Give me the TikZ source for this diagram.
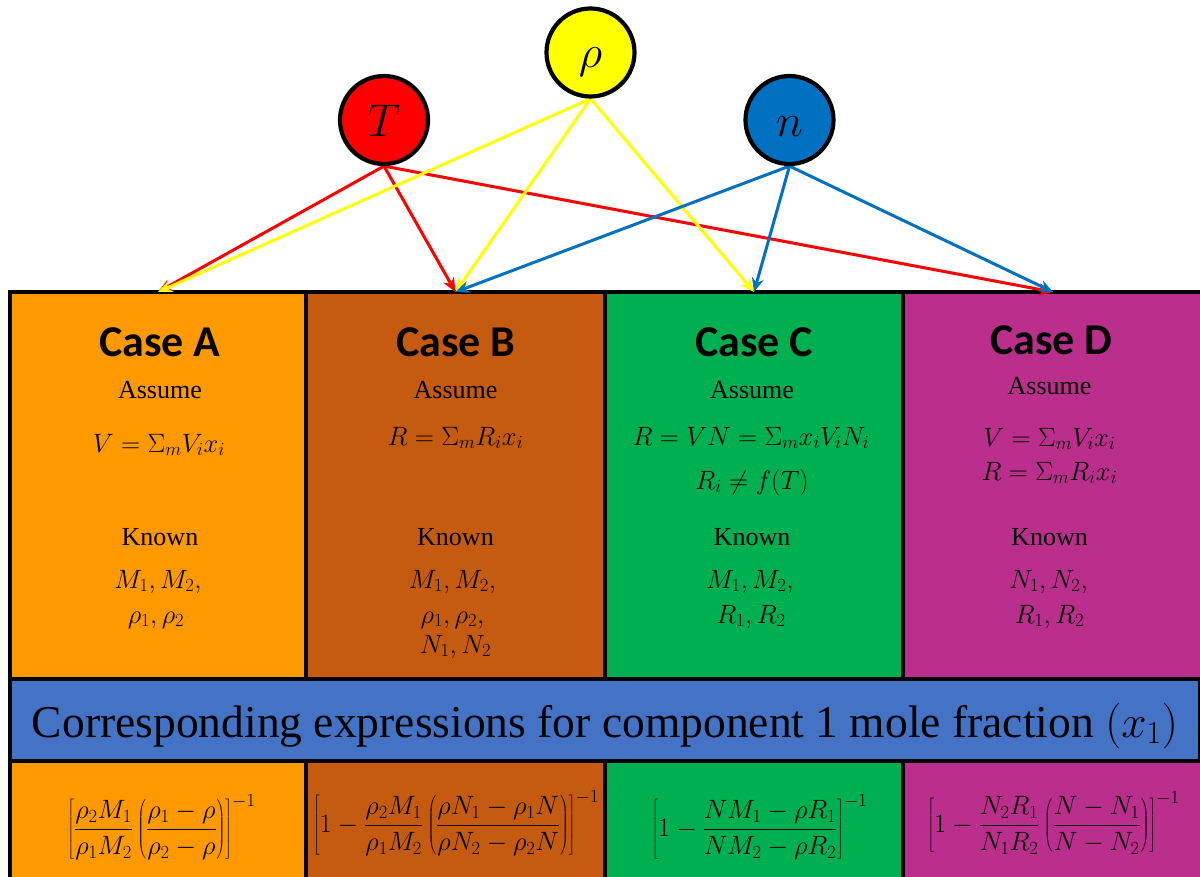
\RequirePackage{fix-cm}
\documentclass[tikz,border=0pt]{standalone}
\usepackage{fontspec}
\usepackage{graphicx}
\usetikzlibrary{arrows.meta}
\newfontfamily\casefont{Carlito}
\newfontfamily\serifx{Liberation Serif}
\definecolor{cA}{HTML}{FF9900}
\definecolor{cB}{HTML}{C55A11}
\definecolor{cC}{HTML}{00B050}
\definecolor{cD}{HTML}{B92F8B}
\definecolor{cBand}{HTML}{4472C4}
\definecolor{cRed}{HTML}{FF0000}
\definecolor{cYel}{HTML}{FFFF00}
\definecolor{cBlu}{HTML}{0070C0}
\pgfdeclarelayer{front}
\pgfsetlayers{main,front}
\tikzset{
  box/.style={draw=black, line width=4.5pt, rectangle, inner sep=0pt, outer sep=0pt, anchor=north west},
  casetitle/.style={anchor=base, inner sep=0pt, font=\fontsize{44}{50}\selectfont\casefont\bfseries},
  lbl/.style={anchor=base, inner sep=0pt, font=\fontsize{26}{30}\selectfont\serifx},
  mth/.style={anchor=base, inner sep=0pt, font=\fontsize{26.5}{30}\selectfont},
  expr/.style={anchor=base, inner sep=0pt, font=\fontsize{26.5}{30}\selectfont},
  var/.style={circle, draw=black, line width=4.2pt, minimum size=88pt, inner sep=0pt},
  letter/.style={anchor=base, inner sep=0pt, font=\fontsize{46}{50}\selectfont},
  arr/.style={-{Stealth[length=14pt,width=12pt]}, line width=3pt}
}
\begin{document}
\begin{tikzpicture}[x=1pt,y=-1pt]
\useasboundingbox (0,0) rectangle (1200,877);
\clip (0,0) rectangle (1200,877);
% upper boxes
\node[box, fill=cA, minimum width=296pt, minimum height=387pt] (A) at (10,292) {};
\node[box, fill=cB, minimum width=299pt, minimum height=387pt] (B) at (306,292) {};
\node[box, fill=cC, minimum width=298pt, minimum height=387pt] (C) at (605,292) {};
\node[box, fill=cD, minimum width=300pt, minimum height=387pt] (D) at (903,292) {};
% band
\node[box, fill=cBand, minimum width=1190pt, minimum height=82pt] (band) at (10,679) {};
% lower boxes
\node[box, fill=cA, minimum width=296pt, minimum height=139pt] (LA) at (10,761) {};
\node[box, fill=cB, minimum width=299pt, minimum height=139pt] (LB) at (306,761) {};
\node[box, fill=cC, minimum width=298pt, minimum height=139pt] (LC) at (605,761) {};
\node[box, fill=cD, minimum width=300pt, minimum height=139pt] (LD) at (903,761) {};
% titles
\node[casetitle] (tA) at (160,356) {Case A};
\node[casetitle] (tB) at (456,356) {Case B};
\node[casetitle] (tC) at (754,356) {Case C};
\node[casetitle] (tD) at (1051.5,355) {Case D};
% assume
\node[lbl] (asA) at (160,399) {Assume};
\node[lbl] (asB) at (455.5,399) {Assume};
\node[lbl] (asC) at (752,399) {Assume};
\node[lbl] (asD) at (1049.5,395) {Assume};
% assumptions
\node[mth] (fA) at (159,452) {$V = \Sigma_m V_i x_i$};
\node[mth] (fB) at (455.5,445) {$R = \Sigma_m R_i x_i$};
\node[mth] (fC1) at (751,445) {$R = VN = \Sigma_m x_i V_i N_i$};
\node[mth] (fC2) at (752,489) {$R_i \neq f(T)$};
\node[mth] (fD1) at (1049.5,446) {$V = \Sigma_m V_i x_i$};
\node[mth] (fD2) at (1049.5,480) {$R = \Sigma_m R_i x_i$};
% known
\node[lbl] (kA) at (160,545) {Known};
\node[lbl] (kB) at (455.5,545) {Known};
\node[lbl] (kC) at (752,545) {Known};
\node[lbl] (kD) at (1049.5,545) {Known};
\node[mth] (kA1) at (158,588) {$M_1, M_2,$};
\node[mth] (kA2) at (156,623) {$\rho_1, \rho_2$};
\node[mth] (kB1) at (452.5,588) {$M_1, M_2,$};
\node[mth] (kB2) at (452.5,623) {$\rho_1, \rho_2,$};
\node[mth] (kB3) at (455.5,653) {$N_1, N_2$};
\node[mth] (kC1) at (750,588) {$M_1, M_2,$};
\node[mth] (kC2) at (751,623) {$R_1, R_2$};
\node[mth] (kD1) at (1048.5,588) {$N_1, N_2,$};
\node[mth] (kD2) at (1049.5,623) {$R_1, R_2$};
% band text
\node[anchor=base, inner sep=0pt] (bandtxt) at (605,737) {\resizebox{1146pt}{!}{\fontsize{40}{44}\selectfont\serifx Corresponding expressions for component 1 mole fraction $(x_1)$}};
% expressions
\node[expr] (eA) at (161.5,836) {$\displaystyle \left[\frac{\rho_2 M_1}{\rho_1 M_2}\left(\frac{\rho_1-\rho}{\rho_2-\rho}\right)\right]^{-1}$};
\node[expr] (eB) at (456,832) {$\displaystyle \left[1-\frac{\rho_2 M_1}{\rho_1 M_2}\left(\frac{\rho N_1-\rho_1 N}{\rho N_2-\rho_2 N}\right)\right]^{-1}$};
\node[expr] (eC) at (759.5,836) {$\displaystyle \left[1-\frac{NM_1-\rho R_1}{NM_2-\rho R_2}\right]^{-1}$};
\node[expr] (eD) at (1053.5,832) {$\displaystyle \left[1-\frac{N_2 R_1}{N_1 R_2}\left(\frac{N-N_1}{N-N_2}\right)\right]^{-1}$};
% variable circles (front layer)
\begin{pgfonlayer}{front}
\node[var, fill=cRed] (T) at (384,120) {};
\node[var, fill=cYel] (rho) at (590.5,52.5) {};
\node[var, fill=cBlu] (n) at (789.5,120) {};
\node[letter] (Tl) at (384,137) {$T$};
\node[letter] (rhol) at (590.5,68) {$\rho$};
\node[letter] (nl) at (789.5,137) {$n$};
\end{pgfonlayer}
% arrows
\draw[arr, cRed] (T.south) -- (A.north);
\draw[arr, cRed] (T.south) -- (B.north);
\draw[arr, cRed] (T.south) -- (D.north);
\draw[arr, cYel] (rho.south) -- (A.north);
\draw[arr, cYel] (rho.south) -- (B.north);
\draw[arr, cYel] (rho.south) -- (C.north);
\draw[arr, cBlu] (n.south) -- (B.north);
\draw[arr, cBlu] (n.south) -- (C.north);
\draw[arr, cBlu] (n.south) -- (D.north);
\end{tikzpicture}
\end{document}
